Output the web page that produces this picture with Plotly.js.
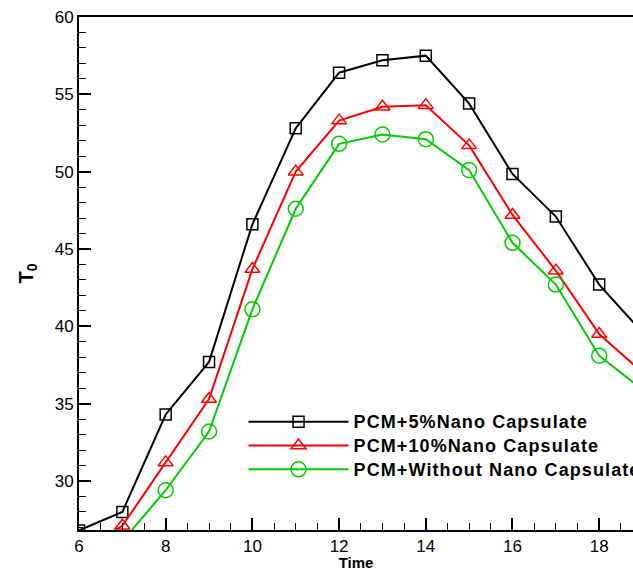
<!DOCTYPE html>
<html>
<head>
<meta charset="utf-8">
<script src="https://cdn.plot.ly/plotly-3.0.1.min.js"></script>
<style>
html,body{margin:0;padding:0;overflow:hidden;background:#fff;}
.legendtext{font-size:18px !important;letter-spacing:1.1px;}
</style>
</head>
<body>
<div id="chart" style="width:633px;height:571px;"></div>
<script>
var time = [6, 7, 8, 9, 10, 11, 12, 13, 14, 15, 16, 17, 18, 19];
var pcm5 = [26.8, 28.0, 34.3, 37.7, 46.6, 52.8, 56.4, 57.2, 57.5, 54.4, 49.85, 47.1, 42.7, 39.6];
var pcm10 = [25.4, 27.1, 31.2, 35.3, 43.7, 50.0, 53.3, 54.2, 54.3, 51.7, 47.2, 43.6, 39.5, 37.0];
var pcm0 = [24.0, 26.1, 29.4, 33.2, 41.1, 47.6, 51.8, 52.4, 52.1, 50.1, 45.4, 42.7, 38.1, 35.9];
var names = ["PCM+5%Nano Capsulate", "PCM+10%Nano Capsulate", "PCM+Without Nano Capsulate"];

var traces = [
  {x: time, y: pcm5, name: names[0], mode: "lines+markers", line: {color: "#000000", width: 2},
   marker: {symbol: "square-open", size: 11, color: "#000000", line: {width: 1.5}}},
  {x: time, y: pcm10, name: names[1], mode: "lines+markers", line: {color: "#ff0000", width: 2},
   marker: {symbol: "triangle-up-open", size: 13, color: "#ff0000", line: {width: 1.5}}},
  {x: time, y: pcm0, name: names[2], mode: "lines+markers", line: {color: "#00cc00", width: 2},
   marker: {symbol: "circle-open", size: 15, color: "#00cc00", line: {width: 1.5}}}
];

var layout = {
  width: 633, height: 571,
  margin: {l: 79, r: 0, t: 17, b: 41, autoexpand: false},
  paper_bgcolor: "#ffffff", plot_bgcolor: "#ffffff",
  font: {family: "Liberation Sans, Arial, sans-serif", color: "#000000", size: 17},
  showlegend: true,
  legend: {x: 0.297, y: 0.244, xanchor: "left", yanchor: "top", bgcolor: "rgba(0,0,0,0)",
           itemwidth: 100,
           font: {size: 16, family: "Liberation Sans, Arial, sans-serif", weight: "bold"}},
  xaxis: {
    range: [6, 18.78], tick0: 6, dtick: 2, ticks: "inside", ticklen: 12, tickwidth: 2, tickcolor: "#000",
    showline: true, linewidth: 2, linecolor: "#000", mirror: true, showgrid: false, zeroline: false,
    minor: {dtick: 0.5, ticks: "inside", ticklen: 7, tickwidth: 1, tickcolor: "#000", showgrid: false},
    tickfont: {size: 17},
    title: {text: "<b>Time</b>", font: {size: 15}, standoff: 2}
  },
  yaxis: {
    range: [26.83, 60], tick0: 0, dtick: 5, ticks: "inside", ticklen: 12, tickwidth: 2, tickcolor: "#000",
    showline: true, linewidth: 2, linecolor: "#000", showgrid: false, zeroline: false,
    minor: {dtick: 1, ticks: "inside", ticklen: 7, tickwidth: 1, tickcolor: "#000", showgrid: false},
    tickfont: {size: 17},
    title: {text: "<b>T<sub>0</sub></b>", font: {size: 20}, standoff: 16}
  }
};

Plotly.newPlot("chart", traces, layout, {displayModeBar: false, staticPlot: true});
</script>
</body>
</html>
